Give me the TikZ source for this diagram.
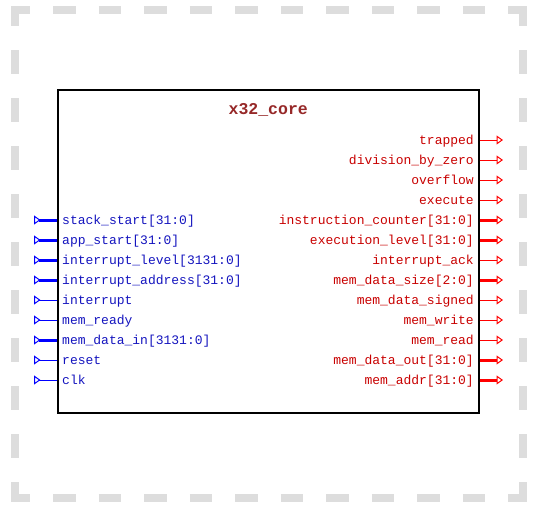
\documentclass[tikz,border=0pt]{standalone}
\usepackage{fontspec}
\setmonofont{Liberation Mono}
\usepackage{xcolor}
\usepackage{tikz}
\usetikzlibrary{arrows.meta}
\definecolor{framegray}{RGB}{221,221,221}
\definecolor{inblue}{RGB}{20,20,190}
\definecolor{outred}{RGB}{200,0,0}
\definecolor{titlered}{RGB}{150,40,40}
\tikzset{
  frameside/.style={draw=framegray,line width=8pt},
  block/.style={rectangle,draw=black,line width=2pt,inner sep=0pt,
    minimum width=420.5pt,minimum height=323pt},
  title/.style={anchor=base,inner sep=0pt,text=titlered,
    font=\ttfamily\bfseries\fontsize{16.5}{16.5}\selectfont},
  inlabel/.style={anchor=base west,inner sep=0pt,text=inblue,
    font=\ttfamily\fontsize{13}{13}\selectfont},
  outlabel/.style={anchor=base east,inner sep=0pt,text=outred,
    font=\ttfamily\fontsize{13}{13}\selectfont},
  inwire/.style={draw=blue,line width=1pt,
    {Triangle[open,reversed,length=6.5pt,width=9pt,line width=1pt]}-},
  inbus/.style={inwire,line width=3pt},
  outwire/.style={draw=red,line width=1pt,
    -{Triangle[open,length=6.5pt,width=9pt,line width=1pt]}},
  outbus/.style={outwire,line width=3pt}}
\begin{document}
\begin{tikzpicture}[x=1pt,y=-1pt]
  \useasboundingbox (0,0) rectangle (537,514);
  % dashed outer frame
  \draw[frameside,dash pattern=on 22.5pt off 23pt,dash phase=3.5pt] (11,10) -- (527,10);
  \draw[frameside,dash pattern=on 22.5pt off 23pt,dash phase=3.5pt] (11,498) -- (527,498);
  \draw[frameside,dash pattern=on 24pt off 24pt,dash phase=4pt] (15,6) -- (15,502);
  \draw[frameside,dash pattern=on 24pt off 24pt,dash phase=4pt] (523,6) -- (523,502);
  % the block
  \node[block] (core) at (268.25,251.5) {};
  \node[title] (name) at (268.25,114.5) {x32\_core};
  % inputs
  \node[inlabel] (stack) at (62,224.5) {stack\_start[31:0]};
  \node[inlabel] (app) at (62,244.5) {app\_start[31:0]};
  \node[inlabel] (irqlevel) at (62,264.5) {interrupt\_level[3131:0]};
  \node[inlabel] (irqaddr) at (62,284.5) {interrupt\_address[31:0]};
  \node[inlabel] (irq) at (62,304.5) {interrupt};
  \node[inlabel] (ready) at (62,324.5) {mem\_ready};
  \node[inlabel] (datain) at (62,344.5) {mem\_data\_in[3131:0]};
  \node[inlabel] (reset) at (62,364.5) {reset};
  \node[inlabel] (clk) at (62,384.5) {clk};
  \coordinate (stack-pin) at (34,220);
  \coordinate (app-pin) at (34,240);
  \coordinate (irqlevel-pin) at (34,260);
  \coordinate (irqaddr-pin) at (34,280);
  \coordinate (irq-pin) at (34,300);
  \coordinate (ready-pin) at (34,320);
  \coordinate (datain-pin) at (34,340);
  \coordinate (reset-pin) at (34,360);
  \coordinate (clk-pin) at (34,380);
  \draw[inbus] (stack-pin) -- (stack-pin -| core.west);
  \draw[inbus] (app-pin) -- (app-pin -| core.west);
  \draw[inbus] (irqlevel-pin) -- (irqlevel-pin -| core.west);
  \draw[inbus] (irqaddr-pin) -- (irqaddr-pin -| core.west);
  \draw[inwire] (irq-pin) -- (irq-pin -| core.west);
  \draw[inwire] (ready-pin) -- (ready-pin -| core.west);
  \draw[inbus] (datain-pin) -- (datain-pin -| core.west);
  \draw[inwire] (reset-pin) -- (reset-pin -| core.west);
  \draw[inwire] (clk-pin) -- (clk-pin -| core.west);
  % outputs
  \node[outlabel] (trapped) at (474,144.5) {trapped};
  \node[outlabel] (divzero) at (474,164.5) {division\_by\_zero};
  \node[outlabel] (overflow) at (474,184.5) {overflow};
  \node[outlabel] (execute) at (474,204.5) {execute};
  \node[outlabel] (icount) at (474,224.5) {instruction\_counter[31:0]};
  \node[outlabel] (elevel) at (474,244.5) {execution\_level[31:0]};
  \node[outlabel] (irqack) at (474,264.5) {interrupt\_ack};
  \node[outlabel] (size) at (474,284.5) {mem\_data\_size[2:0]};
  \node[outlabel] (signed) at (474,304.5) {mem\_data\_signed};
  \node[outlabel] (write) at (474,324.5) {mem\_write};
  \node[outlabel] (read) at (474,344.5) {mem\_read};
  \node[outlabel] (dataout) at (474,364.5) {mem\_data\_out[31:0]};
  \node[outlabel] (addr) at (474,384.5) {mem\_addr[31:0]};
  \coordinate (trapped-pin) at (503,140);
  \coordinate (divzero-pin) at (503,160);
  \coordinate (overflow-pin) at (503,180);
  \coordinate (execute-pin) at (503,200);
  \coordinate (icount-pin) at (503,220);
  \coordinate (elevel-pin) at (503,240);
  \coordinate (irqack-pin) at (503,260);
  \coordinate (size-pin) at (503,280);
  \coordinate (signed-pin) at (503,300);
  \coordinate (write-pin) at (503,320);
  \coordinate (read-pin) at (503,340);
  \coordinate (dataout-pin) at (503,360);
  \coordinate (addr-pin) at (503,380);
  \draw[outwire] (trapped-pin -| core.east) -- (trapped-pin);
  \draw[outwire] (divzero-pin -| core.east) -- (divzero-pin);
  \draw[outwire] (overflow-pin -| core.east) -- (overflow-pin);
  \draw[outwire] (execute-pin -| core.east) -- (execute-pin);
  \draw[outbus] (icount-pin -| core.east) -- (icount-pin);
  \draw[outbus] (elevel-pin -| core.east) -- (elevel-pin);
  \draw[outwire] (irqack-pin -| core.east) -- (irqack-pin);
  \draw[outbus] (size-pin -| core.east) -- (size-pin);
  \draw[outwire] (signed-pin -| core.east) -- (signed-pin);
  \draw[outwire] (write-pin -| core.east) -- (write-pin);
  \draw[outwire] (read-pin -| core.east) -- (read-pin);
  \draw[outbus] (dataout-pin -| core.east) -- (dataout-pin);
  \draw[outbus] (addr-pin -| core.east) -- (addr-pin);
\end{tikzpicture}
\end{document}
